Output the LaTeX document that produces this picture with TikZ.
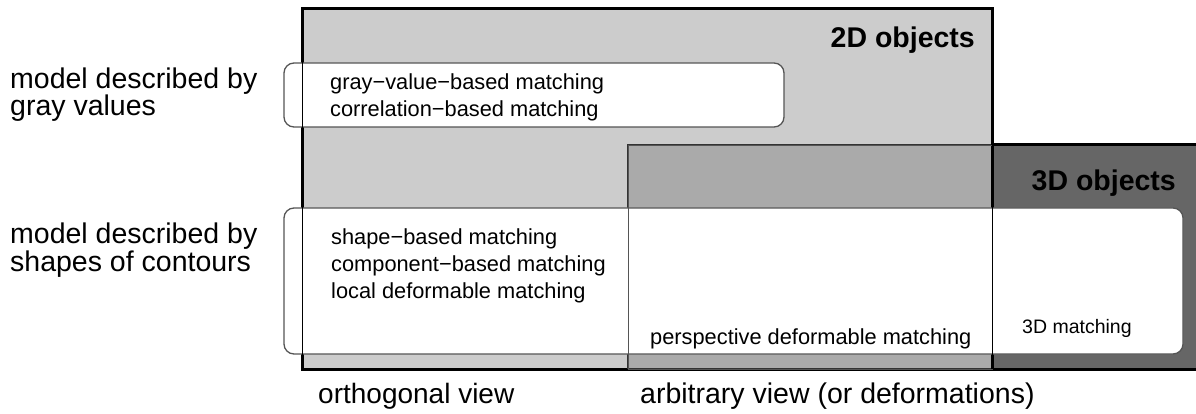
\documentclass[tikz,border=0pt]{standalone}
\usepackage{fontspec}
\setmainfont{Liberation Sans}
\definecolor{gtwo}{HTML}{CCCCCC}
\definecolor{garb}{HTML}{AAAAAA}
\definecolor{gthree}{HTML}{666666}
\definecolor{edgegray}{HTML}{555555}
\definecolor{arbedge}{HTML}{333333}
\begin{document}
\begin{tikzpicture}[x=1pt,y=-1pt,
  biglab/.style={inner sep=0pt, anchor=base west, align=left, font=\fontsize{28.5}{27.5}\selectfont},
  smalllab/.style={inner sep=0pt, anchor=base west, align=left, font=\fontsize{21.8}{27}\selectfont},
  title/.style={inner sep=0pt, anchor=base east, font=\fontsize{28.5}{28}\selectfont\bfseries},
  whitebox/.style={fill=white, draw=edgegray, line width=1.3pt, rounded corners=10pt},
  thin/.style={line width=0.9pt}]
\useasboundingbox (0,0) rectangle (1196,414);
\clip (0,0) rectangle (1196,414);
% named corners
\coordinate (twoNW) at (302,9);
\coordinate (twoSE) at (992,369);
\coordinate (arbNW) at (628,145);
\coordinate (arbSE) at (992,369);
\coordinate (thrNW) at (992,145);
\coordinate (thrSE) at (1202,369);
% fills
\fill[gtwo] (twoNW) rectangle (twoSE);
\fill[garb] (arbNW) rectangle (arbSE);
\fill[gthree] (thrNW) rectangle (thrSE);
% thick outlines
\draw[line width=3pt] (twoNW) rectangle (twoSE);
\draw[line width=2pt, arbedge] (arbNW) rectangle (arbSE);
\draw[line width=3pt] (thrNW) rectangle (thrSE);
% white rounded boxes
\draw[whitebox] (284,63) rectangle (784,127);
\draw[whitebox] (284,208) rectangle (1183,354);
% thin outlines over white
\draw[thin] (twoNW) rectangle (twoSE);
\draw[thin, edgegray] (arbNW) rectangle (arbSE);
\draw[thin] (thrNW) -- (thrNW |- twoSE);
% titles
\node[title] (t2d) at (975,48) {2D objects};
\node[title] (t3d) at (1176,190) {3D objects};
% left labels (base = last line)
\node[biglab] (lgray) at (10,116) {model described by\\gray values};
\node[biglab] (lshape) at (10,271) {model described by\\shapes of contours};
% inner texts
\node[smalllab] (mgray) at (330,117) {gray−value−based matching\\correlation−based matching};
\node[smalllab] (mshape) at (331,298) {shape−based matching\\component−based matching\\local deformable matching};
\node[smalllab] (mpersp) at (650,344) {perspective deformable matching};
\node[smalllab, font=\fontsize{19.5}{24}\selectfont] (m3d) at (1022,333) {3D matching};
% bottom labels
\node[biglab, font=\fontsize{28}{28}\selectfont] (lortho) at (318,403) {orthogonal view};
\node[biglab] (larb) at (640,403) {arbitrary view (or deformations)};
\end{tikzpicture}
\end{document}
